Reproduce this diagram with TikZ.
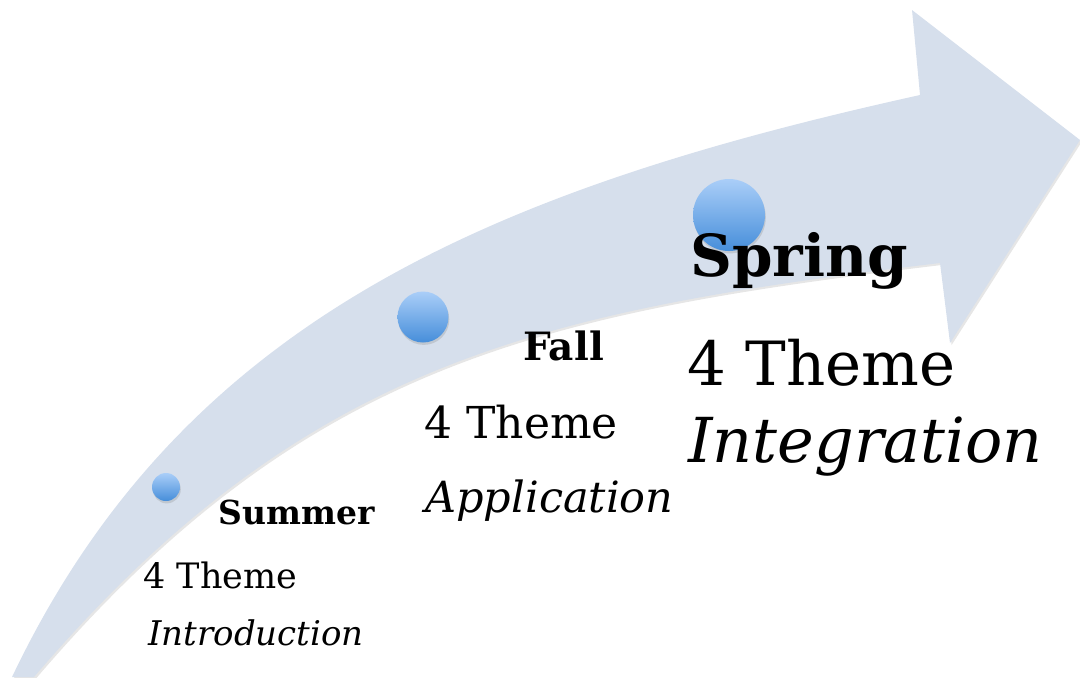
\documentclass[tikz,border=0pt]{standalone}
\usepackage{fontspec}
\setmainfont{DejaVu Serif}
\usetikzlibrary{shadows,positioning}
\definecolor{arrowfill}{RGB}{214,223,236}
\definecolor{ballhi}{RGB}{170,206,248}
\definecolor{balllo}{RGB}{70,142,218}

\begin{document}
\begin{tikzpicture}[x=0.5pt,y=-0.5pt,
    ball/.style={circle,inner sep=0pt,top color=ballhi,bottom color=balllo,
      drop shadow={shadow xshift=0.4pt,shadow yshift=-1.2pt,opacity=0.25}},
    season/.style={anchor=base west,inner sep=0pt,font=\bfseries},
    theme/.style={anchor=base west,inner sep=0pt},
    stage/.style={anchor=base west,inner sep=0pt,font=\itshape}]
    \useasboundingbox (0,0) rectangle (1080,677);
    % the big curved arrow
    \fill[gray,opacity=0.2,xshift=0.8pt,yshift=-1pt] (12,677) .. controls (182,320) and (490,190) .. (920,95)
      -- (912,10) -- (1080,140) -- (950,343) -- (940,263)
      .. controls (540,311) and (304,361) .. (34,677) -- cycle;
    \fill[arrowfill] (12,677) .. controls (182,320) and (490,190) .. (920,95)
      -- (912,10) -- (1080,140) -- (950,343) -- (940,263)
      .. controls (540,311) and (304,361) .. (34,677) -- cycle;
    % balls
    \node[ball,minimum size=14pt] (summerball) at (166,487) {};
    \node[ball,minimum size=25.5pt] (fallball) at (423,317) {};
    \node[ball,minimum size=36pt] (springball) at (729,215) {};
    % summer
    \node[season,font=\bfseries\fontsize{16.5}{18}\selectfont] (summer) at (218,524) {Summer};
    \node[theme,font=\fontsize{17.5}{19}\selectfont] (summertheme) at (143,588) {4 Theme};
    \node[stage,font=\itshape\fontsize{17}{19}\selectfont] (summerstage) at (148,645) {Introduction};
    % fall
    \node[season,font=\bfseries\fontsize{19.5}{21}\selectfont] (fall) at (523,360) {Fall};
    \node[theme,font=\fontsize{22}{24}\selectfont] (falltheme) at (424,438) {4 Theme};
    \node[stage,font=\itshape\fontsize{21.5}{24}\selectfont] (fallstage) at (425,512) {Application};
    % spring
    \node[season,font=\bfseries\fontsize{29}{31}\selectfont] (spring) at (690,276) {Spring};
    \node[theme,font=\fontsize{30.5}{33}\selectfont] (springtheme) at (687,385) {4 Theme};
    \node[stage,font=\itshape\fontsize{31}{33}\selectfont] (springstage) at (688,462) {Integration};
\end{tikzpicture}
\end{document}
